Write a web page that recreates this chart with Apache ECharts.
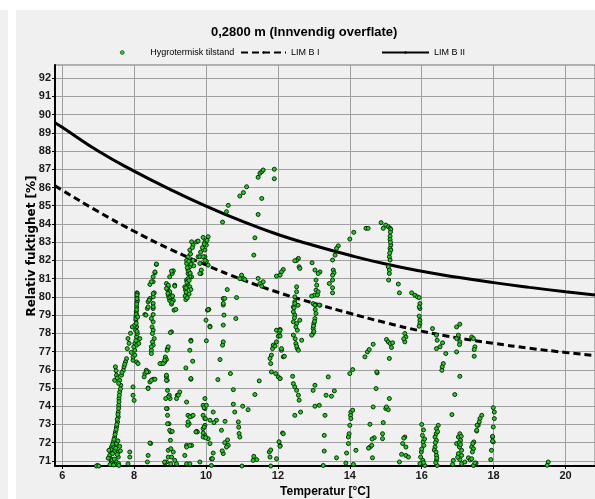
<!DOCTYPE html>
<html>
<head>
<meta charset="utf-8">
<script src="https://cdn.jsdelivr.net/npm/echarts@6/dist/echarts.min.js"></script>
<style>
  html, body { margin: 0; padding: 0; background: #ffffff; }
  #chart { width: 595px; height: 499px; }
</style>
</head>
<body>
<div id="chart"></div>
<script>
// Limit curves (relative humidity vs. temperature)
const limTemps = [5.8, 6, 7, 8, 9, 10, 11, 12, 13, 14, 15, 16, 17, 18, 19, 20, 20.82];
const limB1 = [86.1, 85.85, 84.68, 83.6, 82.62, 81.75, 80.95, 80.25, 79.65, 79.1, 78.58, 78.12, 77.75, 77.45, 77.18, 76.95, 76.78];
const limB2 = [89.55, 89.3, 88.0, 86.9, 85.9, 84.98, 84.15, 83.42, 82.82, 82.28, 81.8, 81.4, 81.07, 80.78, 80.52, 80.28, 80.1];

// Axis tick labels
const tempTicks = [6, 8, 10, 12, 14, 16, 18, 20];
const rhTicks = [71, 72, 73, 74, 75, 76, 77, 78, 79, 80, 81, 82, 83, 84, 85, 86, 87, 88, 89, 90, 91, 92];

// Hygrothermal states: [temperature °C, relative humidity %]
const hygroStates = [
  // 7.0 - 7.9 °C
  [7.79,76.61],[7.76,76.43],[7.72,76.16],[7.70,75.97],[7.65,75.70],[7.60,75.42],[7.51,75.70],[7.46,75.42],[7.48,76.16],[7.63,75.15],
  [7.60,74.78],[7.58,74.42],[7.57,74.05],[7.56,73.68],[7.56,73.41],[7.54,73.13],[7.51,72.86],[7.48,72.58],[7.46,72.31],[7.42,72.04],
  [7.37,71.76],[7.35,71.49],[7.32,71.30],[7.37,70.94],[7.51,71.95],[7.56,71.49],[7.56,71.21],[7.51,70.94],[7.46,71.58],[7.40,71.40],
  [6.98,70.75],[6.95,70.72],[7.02,70.72],[7.88,71.49],[7.88,71.21],[7.83,70.84],
  [7.62,74.95],[7.59,74.60],[7.58,74.25],[7.57,73.88],[7.55,73.55],[7.53,73.28],[7.52,73.00],[7.50,72.72],[7.47,72.45],[7.44,72.18],
  [7.40,71.90],[7.36,71.62],[7.34,71.12],[7.39,71.05],[7.44,71.75],[7.49,71.70],[7.53,71.35],[7.45,71.10],[7.55,72.10],[7.60,71.80],
  [7.62,71.55],[7.33,70.80],[7.48,70.80],[7.57,70.85],[7.66,75.85],[7.74,76.30],[7.53,75.55],[7.50,75.95],[7.57,75.25],[7.58,70.75],
  [7.43,70.78],[7.28,71.15],[7.30,71.58],
  // 7.8 - 8.2 °C
  [8.08,80.22],[8.08,80.00],[8.08,79.73],[8.07,79.45],[8.06,79.18],[8.05,78.90],[8.05,78.72],[8.09,80.18],[8.09,79.80],[8.07,79.00],
  [8.07,78.35],[8.07,77.80],[8.02,77.44],[8.02,77.07],[7.97,76.52],[8.09,77.99],[8.11,77.62],[8.07,77.35],[7.97,76.70],[7.95,78.35],
  [8.02,78.45],[8.04,78.17],[7.83,77.71],[7.81,77.16],[8.16,77.71],[8.13,77.44],[8.02,76.80],[8.07,76.43],[8.11,76.34],[7.97,75.06],
  [7.97,74.60],[8.00,74.32],[8.08,80.10],[8.08,79.90],[8.07,79.60],[8.07,79.30],[8.06,79.05],[8.05,78.80],[8.06,78.55],[8.08,78.10],
  [8.05,77.60],[7.99,77.25],[7.92,76.95],[7.86,77.45],[7.90,78.00],[8.10,78.90],
  // 8.2 - 8.7 °C
  [8.62,81.78],[8.58,81.32],[8.53,81.10],[8.53,80.83],[8.44,80.68],[8.58,81.37],[8.48,80.83],[8.62,81.80],[8.56,80.22],[8.53,80.00],
  [8.44,79.86],[8.39,79.73],[8.53,79.64],[8.53,79.36],[8.53,79.03],[8.37,79.36],[8.30,79.03],[8.44,79.91],[8.53,80.18],[8.39,79.45],
  [8.53,78.63],[8.50,78.35],[8.53,78.17],[8.56,77.71],[8.53,77.35],[8.48,77.07],[8.48,78.81],[8.51,77.99],[8.51,77.53],[8.48,77.26],
  [8.48,76.89],[8.42,79.82],[8.53,79.45],[8.33,79.00],[8.34,75.97],[8.30,75.79],[8.28,75.61],[8.44,75.33],[8.53,75.48],[8.58,75.48],
  [8.39,75.00],[8.46,71.96],[8.39,71.30],[8.37,70.94],[8.40,75.88],[8.35,75.88],[8.48,75.42],[8.39,74.97],[8.44,71.98],
  // 8.7 - 9.3 °C
  [8.90,80.73],[8.95,80.55],[9.00,80.10],[9.04,79.90],[9.09,79.80],[8.97,80.30],[8.93,80.40],[9.13,80.64],[9.11,79.27],[9.06,81.28],
  [9.09,81.43],[9.04,81.41],[8.99,81.10],[8.95,80.64],[8.90,80.46],[9.13,80.59],[8.99,80.28],[8.95,80.09],[8.99,79.80],[9.04,79.60],
  [8.97,79.95],[9.02,80.00],[9.05,79.70],[8.94,80.20],[9.07,80.05],
  [9.04,78.08],[8.93,77.16],[8.87,76.70],[9.01,78.04],[8.76,76.34],[8.85,76.43],[8.92,77.07],[8.95,77.26],[8.90,76.56],[8.90,75.61],
  [8.92,75.42],[8.93,74.87],[8.98,74.60],[9.00,74.42],[9.20,74.60],[9.27,74.78],[8.92,73.87],[8.93,73.50],[8.97,73.04],[9.02,72.59],
  [9.01,72.13],[8.86,70.88],[8.90,70.94],[8.95,71.58],[8.95,71.21],[9.04,71.21],[9.09,71.49],[9.18,70.84],
  [8.72,76.34],[8.81,76.34],[8.85,76.52],[8.90,75.70],[8.90,75.42],[8.95,74.51],[8.88,74.42],[8.90,73.87],[8.93,73.04],[8.99,72.68],
  [9.06,72.62],[9.02,71.67],[8.85,70.94],[9.13,71.03],[9.02,70.84],[9.23,74.60],[9.18,74.42],[9.16,79.31],
  // 9.3 - 9.8 °C
  [9.60,83.02],[9.64,82.84],[9.55,82.57],[9.74,83.02],[9.78,83.06],[9.50,82.20],[9.46,82.00],[9.55,81.65],[9.50,81.28],[9.46,80.92],
  [9.41,80.55],[9.46,80.18],[9.55,80.55],[9.60,81.10],[9.64,82.00],[9.66,81.70],[9.78,82.20],[9.46,81.83],[9.50,81.47],[9.55,81.10],
  [9.49,80.73],[9.43,80.37],[9.46,80.00],[9.48,81.60],[9.52,81.40],[9.50,81.00],[9.47,80.80],[9.44,80.50],[9.45,80.25],[9.42,80.05],
  [9.53,80.90],[9.56,81.30],[9.58,81.80],[9.52,81.95],[9.57,82.35],[9.62,82.70],[9.44,79.85],[9.48,79.95],[9.53,80.15],[9.58,80.40],
  [9.58,77.62],[9.55,77.07],[9.58,77.57],[9.63,76.47],[9.44,76.10],[9.58,75.48],[9.58,75.52],[9.46,74.23],[9.60,73.45],[9.53,73.04],
  [9.49,72.95],[9.74,72.62],[9.60,71.85],[9.46,71.85],[9.41,71.30],[9.46,70.84],[9.55,70.84],[9.50,73.50],[9.55,73.41],[9.64,73.50],
  [9.50,73.14],[9.76,72.59],[9.46,71.76],[9.55,71.85],[9.72,72.59],
  // 9.8 - 10.2 °C
  [9.83,82.20],[9.87,81.47],[9.86,81.28],[9.97,82.20],[10.06,81.74],[10.01,81.95],[9.92,83.26],[10.06,83.30],[9.97,83.02],[10.01,82.84],
  [9.97,82.57],[9.92,82.20],[9.97,82.00],[9.83,81.83],[9.83,81.28],[9.85,82.45],[9.90,82.70],[9.95,82.90],[10.03,83.10],
  [10.04,79.27],[10.00,78.72],[10.11,78.39],[10.01,77.59],[10.11,78.35],[10.08,79.31],[10.06,79.30],
  [9.97,74.42],[9.92,74.05],[9.97,73.87],[9.92,73.50],[9.97,73.32],[9.97,72.95],[9.97,72.40],[9.92,72.31],[10.06,72.22],[10.11,71.95],
  [10.15,71.12],[9.83,70.94],[10.15,70.75],[10.20,73.68],[10.11,73.23],[9.92,72.77],[9.92,72.53],[9.95,73.92],[9.99,72.27],[9.95,72.86],
  [9.98,73.32],[10.01,74.05],[9.83,70.70],[9.97,70.70],
  // 10.2 - 11.1 °C
  [10.48,79.55],[10.50,79.00],[10.48,78.45],[10.48,77.53],[10.46,77.35],[10.83,78.81],[10.39,76.56],[10.33,75.46],[10.68,75.79],[10.76,74.91],
  [10.76,74.11],[11.02,74.00],[10.80,73.68],[10.53,73.17],[10.43,72.68],[10.29,73.23],[10.22,73.10],[10.90,73.14],[10.91,72.85],[10.92,72.50],
  [10.94,72.31],[10.62,71.85],[10.57,71.76],[10.48,71.40],[10.45,71.55],[10.20,71.43],[10.18,71.12],[11.00,70.72],[10.52,72.00],[10.60,72.15],
  [10.99,81.19],[11.04,81.00],[10.94,81.00],[11.08,80.95],[10.59,80.40],[10.48,79.91],[10.52,79.91],[10.85,79.96],[10.48,79.64],
  [10.62,85.02],[10.57,84.67],[10.46,84.10],[10.94,85.53],[11.04,85.72],[11.13,86.04],
  // 11.1 - 12.2 °C
  [11.45,86.56],[11.50,86.78],[11.55,86.87],[11.59,86.96],[11.90,87.00],[11.90,86.48],[11.55,85.40],[11.45,84.52],[11.36,83.24],[11.33,82.29],
  [12.15,81.50],[12.10,81.37],[12.06,81.19],[11.96,81.14],[11.45,81.01],[11.50,80.73],[11.59,80.83],[11.55,80.59],
  [11.48,75.39],[11.36,74.64],[11.17,73.81],[11.80,70.72],[12.06,71.85],[12.13,72.53],[11.41,71.07],[11.31,71.03],[11.76,71.49],[11.78,71.21],
  [11.96,71.12],[11.33,71.25],[11.80,71.60],[12.03,72.05],
  [11.82,76.80],[11.85,77.16],[11.87,77.35],[11.92,77.30],[11.96,77.53],[12.01,77.84],[12.04,78.08],[12.06,78.21],[12.10,77.07],[12.15,76.71],
  [12.18,76.74],[11.94,75.79],[12.01,75.61],[12.06,75.52],[11.80,76.34],[11.78,76.62],[11.82,75.88],[11.96,78.17],[12.06,78.17],[12.06,77.85],
  [12.10,77.16],
  // 12.3 - 13.7 °C
  [12.57,82.11],[12.52,82.00],[12.59,81.65],[12.61,81.56],[12.47,81.98],[12.52,80.55],[12.52,80.28],[12.47,80.00],[12.47,79.73],[12.56,79.54],
  [12.43,79.45],[12.98,79.63],[13.03,79.54],[13.17,79.54],[13.06,80.92],[13.08,80.64],[13.06,80.37],[13.01,80.09],[12.94,80.04],[13.12,80.28],
  [13.10,80.10],[13.17,81.37],[13.12,81.28],[13.03,81.47],[12.95,81.87],[13.68,82.80],[13.63,82.66],[13.59,82.29],[13.52,82.02],[13.54,81.47],
  [13.56,81.32],[13.52,81.19],[13.52,80.92],[13.43,80.73],[13.52,80.50],[13.52,80.22],
  [12.47,79.64],[12.43,79.18],[12.47,79.00],[12.43,78.63],[12.52,78.54],[12.54,78.17],[12.43,77.90],[12.50,77.44],[12.54,77.16],[12.57,77.07],
  [12.61,78.72],[12.66,77.62],[13.03,79.55],[13.06,79.09],[13.03,78.81],[13.00,78.54],[12.98,78.26],[12.98,78.00],[13.15,79.55],[12.94,77.90],
  [12.45,79.40],[12.46,78.85],[12.50,78.35],[12.48,77.70],[12.52,77.30],[13.04,79.30],[13.02,78.65],[12.99,78.40],[13.00,78.10],
  [12.47,75.06],[12.43,75.24],[12.41,75.64],[12.52,74.87],[12.57,74.60],[12.59,74.33],[12.63,73.68],[12.47,73.50],[12.06,75.52],[12.15,72.49],
  [12.06,71.80],[13.03,75.15],[12.98,74.87],[13.40,75.61],[13.57,74.84],[13.34,74.60],[13.49,74.55],[13.15,74.05],[13.03,74.00],[13.31,73.50],
  [13.29,72.40],[13.29,71.54],[13.26,70.75],[13.63,71.17],
  // 13.9 - 16.0 °C, upper arc
  [14.00,83.17],[14.11,83.54],[14.45,83.76],[14.51,83.76],[14.87,84.07],[14.93,83.76],[15.00,83.94],[15.07,83.85],[15.12,83.76],[15.14,83.70],
  [15.12,83.33],[15.12,83.15],[15.14,82.84],[15.12,82.66],[15.14,82.56],[15.10,82.20],[15.12,82.02],[15.07,81.65],[15.10,81.47],[15.10,81.28],
  [15.08,80.92],[15.35,80.70],[15.38,80.22],[15.72,80.22],[15.81,80.09],[15.88,80.00],[15.93,79.96],[15.95,79.63],[15.95,79.36],[15.93,79.45],
  [15.93,78.94],[15.95,78.72],[15.95,78.54],[15.93,78.39],[15.13,83.00],[15.11,82.40],[15.13,83.55],
  // 13.9 - 15.2 °C, lower
  [14.00,75.79],[14.08,76.01],[14.42,76.71],[14.49,76.98],[14.54,77.11],[14.65,77.40],[14.76,75.83],[14.73,74.97],[14.75,75.88],[15.10,76.62],
  [15.10,74.42],[15.00,73.87],[15.07,73.81],[15.02,73.96],[14.65,73.96],[14.93,73.10],[14.56,73.01],[14.91,72.49],[14.91,72.22],[14.68,72.27],
  [14.62,72.20],[15.02,77.66],[15.07,77.53],[15.12,77.44],[15.16,77.22],[15.19,77.48],[14.03,73.68],[14.08,73.78],[14.02,73.50],[14.03,73.32],
  [14.00,72.95],[13.98,72.49],[13.96,72.31],[13.96,71.95],[13.91,71.43],[13.89,70.88],[14.10,70.81],[14.17,71.58],[14.63,71.17],[14.56,71.76],
  [14.61,71.85],[14.52,71.70],
  // 15.3 - 16.1 °C
  [15.53,77.99],[15.56,77.80],[15.53,77.53],[15.50,77.70],[15.53,72.31],[15.50,72.25],[15.47,71.95],[15.56,71.76],[15.56,71.30],[15.63,71.21],
  [15.44,71.36],[15.38,70.94],[16.04,72.04],[16.06,71.85],[15.99,71.49],[15.97,71.21],[16.03,71.03],[15.95,70.85],[16.09,70.75],[16.05,70.90],
  [16.00,71.65],[16.08,72.20],[16.02,72.40],[16.05,72.70],[16.00,73.00],
  // 16.3 - 16.7 °C
  [16.30,78.26],[16.41,77.90],[16.43,77.62],[16.58,77.48],[16.41,77.16],[16.51,77.26],[16.67,76.89],[16.60,76.34],[16.57,76.16],[16.56,75.97],
  [16.46,72.95],[16.41,72.77],[16.40,72.49],[16.37,72.31],[16.41,72.13],[16.37,71.76],[16.35,71.60],[16.40,71.49],[16.41,71.30],[16.41,71.03],
  [16.43,70.75],[16.44,72.60],[16.38,72.00],[16.42,71.15],[16.39,70.90],
  // 16.8 - 17.4 °C
  [16.97,78.35],[17.06,78.50],[17.02,77.90],[16.97,77.71],[17.06,77.53],[17.05,77.38],[16.97,76.98],[17.06,75.64],[16.92,74.64],[16.84,73.54],
  [17.06,72.49],[17.02,72.31],[17.08,72.13],[16.97,71.95],[17.05,71.76],[17.11,71.58],[17.02,71.40],[17.11,71.30],[17.06,71.07],[17.11,70.85],
  [16.88,71.03],[16.86,70.81],[17.20,70.94],[17.30,71.17],[17.35,71.05],[17.04,72.00],[17.08,71.90],[17.00,71.20],[17.10,72.35],
  // 17.4 - 19.5 °C
  [17.39,77.80],[17.44,77.71],[17.48,77.26],[17.46,77.11],[17.46,76.74],[17.67,73.50],[17.62,73.32],[17.60,73.14],[17.57,72.95],[17.53,72.64],
  [17.45,72.04],[17.42,71.95],[17.39,71.76],[17.44,71.67],[17.51,70.88],[17.44,70.75],[17.54,72.96],[17.53,72.68],[17.41,71.49],[17.39,71.12],
  [17.48,70.89],
  [17.99,73.92],[18.02,73.68],[18.02,73.32],[17.99,72.86],[17.97,72.31],[17.99,72.04],[17.94,71.58],[17.92,71.07],[17.97,72.35],[17.97,72.09],
  [19.52,70.94],[19.49,70.76]
];

const FONT = '"Liberation Sans", Arial, sans-serif';
const chart = echarts.init(document.getElementById('chart'), null, { renderer: 'canvas' });

const zip = (xs, ys) => xs.map((x, i) => [x, ys[i]]);

chart.setOption({
  animation: false,
  backgroundColor: '#ffffff',
  textStyle: { fontFamily: FONT },
  title: {
    text: '0,2800 m (Innvendig overflate)',
    left: 211, top: 26, padding: 0,
    textStyle: { fontFamily: FONT, fontSize: 13, fontWeight: 'bold', color: '#000' }
  },
  legend: [
    {
      data: ['Hygrotermisk tilstand'], left: 120, top: 48, padding: 0,
      itemWidth: 46, itemHeight: 4, icon: 'circle',
      itemStyle: { color: '#22c922', borderColor: '#0b2e0b', borderWidth: 0.5 },
      textStyle: { fontFamily: FONT, fontSize: 9, color: '#000' }
    },
    {
      data: ['LIM B I'], left: 240, top: 48, padding: 0,
      itemWidth: 45, itemHeight: 3,
      textStyle: { fontFamily: FONT, fontSize: 9, color: '#000' }
    },
    {
      data: ['LIM B II'], left: 381, top: 48, padding: 0,
      itemWidth: 47, itemHeight: 3,
      textStyle: { fontFamily: FONT, fontSize: 9, color: '#000' }
    }
  ],
  grid: {
    left: 55, right: 0, top: 65, bottom: 33,
    show: true, backgroundColor: '#f0f0f0', borderColor: '#707070', borderWidth: 1,
    outerBoundsMode: 'none'
  },
  xAxis: {
    type: 'value', min: 5.8, max: 20.82,
    name: 'Temperatur [°C]', nameLocation: 'middle', nameGap: 19,
    nameTextStyle: { fontFamily: FONT, fontSize: 12, fontWeight: 'bold', color: '#000' },
    axisLine: { show: true, onZero: false, lineStyle: { color: '#000', width: 2 } },
    axisTick: { show: true, customValues: tempTicks, length: 3, lineStyle: { color: '#000' } },
    axisLabel: { customValues: tempTicks, margin: 4, fontFamily: FONT, fontSize: 11, fontWeight: 'bold', color: '#1a1a1a' },
    splitLine: { show: true, lineStyle: { color: '#a0a0a0', width: 1 } }
  },
  yAxis: {
    type: 'value', min: 70.72, max: 92.72,
    axisLine: { show: true, onZero: false, lineStyle: { color: '#000', width: 2 } },
    axisTick: { show: true, customValues: rhTicks, length: 3, lineStyle: { color: '#000' } },
    axisLabel: { customValues: rhTicks, margin: 4, fontFamily: FONT, fontSize: 11, fontWeight: 'bold', color: '#1a1a1a' },
    splitLine: { show: true, lineStyle: { color: '#a0a0a0', width: 1 } }
  },
  graphic: [
    { type: 'rect', z: -10, silent: true, shape: { x: 0, y: 10, width: 8, height: 489 }, style: { fill: '#f0f0f0' } },
    { type: 'rect', z: -10, silent: true, shape: { x: 16, y: 10, width: 579, height: 489 }, style: { fill: '#f0f0f0' } },
    {
      type: 'text', x: 32, y: 246, rotation: Math.PI / 2, silent: true,
      style: { text: 'Relativ fuktighet [%]', font: 'bold 12px "DejaVu Sans", sans-serif', fill: '#000', align: 'center', verticalAlign: 'middle' }
    }
  ],
  series: [
    {
      name: 'Hygrotermisk tilstand', type: 'scatter', z: 5,
      data: hygroStates, symbol: 'circle', symbolSize: 4,
      itemStyle: { color: '#1ed21e', borderColor: '#0b2e0b', borderWidth: 1, opacity: 1 }
    },
    {
      name: 'LIM B I', type: 'line', z: 3, data: zip(limTemps, limB1),
      smooth: true, symbol: 'none',
      itemStyle: { color: '#000' },
      lineStyle: { color: '#000', width: 3, type: [7, 4] }
    },
    {
      name: 'LIM B II', type: 'line', z: 3, data: zip(limTemps, limB2),
      smooth: true, symbol: 'none',
      itemStyle: { color: '#000' },
      lineStyle: { color: '#000', width: 3 }
    }
  ]
});
</script>
</body>
</html>
